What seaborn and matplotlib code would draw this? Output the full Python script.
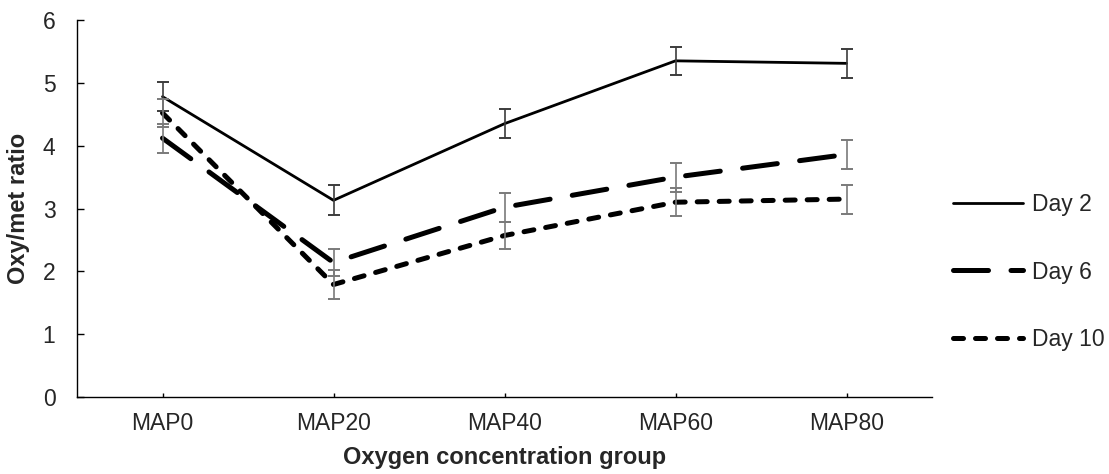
import pandas as pd
import matplotlib
matplotlib.use('Agg')
import matplotlib.pyplot as plt
import seaborn as sns

groups = ['MAP0', 'MAP20', 'MAP40', 'MAP60', 'MAP80']
days = ['Day 2', 'Day 6', 'Day 10']

day2 = [4.78, 3.13, 4.35, 5.35, 5.31]
day6 = [4.12, 2.14, 3.02, 3.50, 3.86]
day10 = [4.52, 1.79, 2.57, 3.10, 3.15]

err2 = [0.23, 0.24, 0.23, 0.22, 0.23]
err6 = [0.23, 0.22, 0.23, 0.23, 0.23]
err10 = [0.23, 0.23, 0.22, 0.22, 0.23]

values = {'Day 2': day2, 'Day 6': day6, 'Day 10': day10}
errors = {'Day 2': err2, 'Day 6': err6, 'Day 10': err10}

df = pd.DataFrame({
    'group': groups * 3,
    'day': [d for d in days for _ in groups],
    'ratio': day2 + day6 + day10,
})

sns.set_style('white')
plt.rcParams['font.family'] = ['Liberation Sans', 'DejaVu Sans']
plt.rcParams['font.size'] = 16.5

fig = plt.figure(figsize=(11.09, 4.74), dpi=100)
ax = fig.add_axes([77 / 1109, 1 - 397 / 474, 855 / 1109, 377 / 474])

sns.lineplot(data=df, x='group', y='ratio', hue='day', style='day', size='day',
             palette={d: 'black' for d in days},
             dashes={'Day 2': '', 'Day 6': (7, 4.5), 'Day 10': (2, 2.4)},
             sizes={'Day 2': 2.0, 'Day 6': 3.6, 'Day 10': 3.6},
             markers=False, legend=False, ax=ax,
             dash_capstyle='round', solid_capstyle='round')
handles = list(ax.lines[:3])

err_colors = {'Day 2': '#3c3c3c', 'Day 6': '#7a7a7a', 'Day 10': '#7a7a7a'}
for d in days:
    ax.errorbar(groups, values[d], yerr=errors[d], fmt='none',
                ecolor=err_colors[d], elinewidth=1.2, capsize=4.5,
                capthick=1.4, zorder=3)

ax.set_xlim(-0.5, 4.5)
ax.set_ylim(0, 6)
ax.set_yticks(range(7))
ax.spines['top'].set_visible(False)
ax.spines['right'].set_visible(False)
for s in ['left', 'bottom']:
    ax.spines[s].set_color('black')
    ax.spines[s].set_linewidth(1.0)
ax.tick_params(axis='y', direction='in', length=5, width=1, color='black', pad=15.5, left=True)
ax.tick_params(axis='x', direction='in', length=3, width=1, color='black', pad=11, bottom=True)

ax.set_xlabel('Oxygen concentration group', fontweight='bold', fontsize=17)
ax.set_ylabel('Oxy/met ratio', fontweight='bold', fontsize=17)
ax.xaxis.set_label_coords(0.5, -0.13)
ax.yaxis.set_label_coords(-0.055, 0.5)

fig.legend(handles, days, loc='center left', bbox_to_anchor=(953 / 1109, 1 - 272 / 474),
           frameon=False, handlelength=3.05, handletextpad=0.4, labelspacing=1.95,
           borderpad=0, borderaxespad=0)

fig.savefig('out.png', dpi=100)
